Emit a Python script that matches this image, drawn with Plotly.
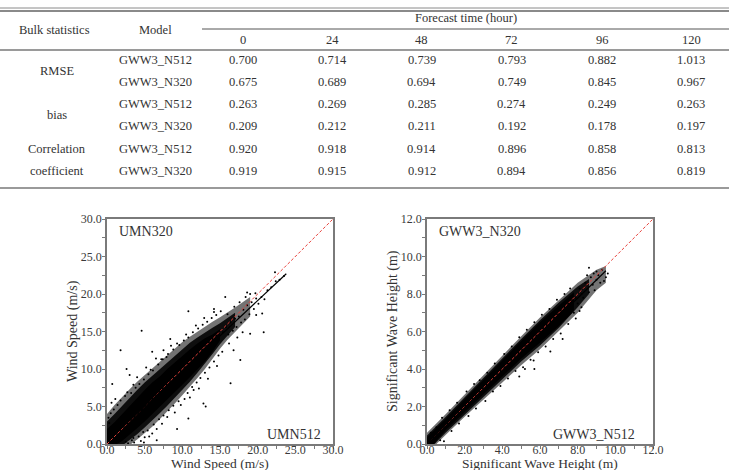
import plotly.graph_objects as go

W, H = 729, 470

# ---------------- table data ----------------
forecast_hours = ["0", "24", "48", "72", "96", "120"]
models = ["GWW3_N512", "GWW3_N320"]
stat_names = ["RMSE", "bias", "Correlation", "coefficient"]
rmse_n512 = [0.700, 0.714, 0.739, 0.793, 0.882, 1.013]
rmse_n320 = [0.675, 0.689, 0.694, 0.749, 0.845, 0.967]
bias_n512 = [0.263, 0.269, 0.285, 0.274, 0.249, 0.263]
bias_n320 = [0.209, 0.212, 0.211, 0.192, 0.178, 0.197]
corr_n512 = [0.920, 0.918, 0.914, 0.896, 0.858, 0.813]
corr_n320 = [0.919, 0.915, 0.912, 0.894, 0.856, 0.819]

# ---------------- wind speed scatter ----------------
# density envelopes of the point cloud (light, medium, solid)
wind_outer_x = [0, 0, 1, 2, 3, 4, 5, 6, 7, 8, 9, 10, 11, 12, 13, 14, 15, 16, 17, 18, 19,
                19, 18, 17, 16, 15, 14, 13, 12, 11, 10, 9, 8, 7, 6, 5, 4, 3.2, 0]
wind_outer_y = [0, 4.0, 5.2, 6.3, 7.3, 8.3, 9.2, 10.1, 11.0, 11.9, 12.8, 13.6, 14.3, 15.0, 15.7, 16.3, 16.9, 17.5, 18.2, 18.9, 19.6,
                17.0, 16.0, 15.0, 13.9, 12.7, 11.3, 10.0, 8.8, 7.6, 6.5, 5.4, 4.3, 3.3, 2.3, 1.4, 0.6, 0, 0]
wind_mid_x = [0, 0, 1, 2, 3, 4, 5, 6, 7, 8, 9, 10, 11, 12, 13, 14, 15, 16, 17,
              17, 16, 15, 14, 13, 12, 11, 10, 9, 8, 7, 6, 5, 4, 3, 2.3, 0]
wind_mid_y = [0, 3.0, 4.0, 5.1, 6.2, 7.2, 8.2, 9.1, 10.0, 10.9, 11.8, 12.7, 13.5, 14.2, 14.9, 15.5, 16.1, 16.8, 17.5,
              15.6, 14.5, 13.3, 12.0, 10.7, 9.5, 8.3, 7.2, 6.2, 5.1, 4.1, 3.1, 2.2, 1.3, 0.5, 0, 0]
wind_core_x = [0, 0, 1, 2, 3, 4, 5, 6, 7, 8, 9, 10, 11, 12, 13, 14, 15,
               15, 14, 13, 12, 11, 10, 9, 8, 7, 6, 5, 4, 3, 2, 1.3, 0]
wind_core_y = [0, 2.0, 2.9, 4.0, 5.1, 6.2, 7.2, 8.2, 9.0, 10.0, 10.9, 11.8, 12.6, 13.4, 14.1, 14.6, 15.3,
               13.8, 12.3, 11.0, 9.9, 8.9, 7.9, 6.9, 5.9, 4.9, 3.9, 3.0, 2.1, 1.2, 0.4, 0, 0]
wind_pts_x = [0.2, 0.5, 0.9, 1.4, 0.3, 1.8, 2.4, 2.8, 2.5, 3.3, 3.6, 1.1, 0.6,
              3.2, 3.8, 4.3, 4.9, 5.5, 6.1, 6.8, 7.4, 8.1, 8.8, 2.7, 4.0, 5.2, 6.5, 7.5, 3.5, 5.8, 7.9, 8.5, 9.3,
              3.5, 4.2, 4.8, 5.4, 6.2, 6.9, 7.5, 8.2, 8.8, 9.5, 4.5, 5.6, 6.6, 7.3, 8.0, 9.0, 9.8, 10.3, 5.0, 6.0,
              9.6, 10.2, 10.8, 11.4, 12.1, 12.7, 13.3, 13.9, 14.5, 15.1, 10.5, 11.8, 12.9, 14.2,
              10.7, 11.3, 11.9, 12.4, 13.0, 13.6, 14.2, 14.8, 15.3, 11.0, 12.2, 13.4, 14.6,
              15.4, 15.8, 16.1, 16.4, 16.7, 17.0, 17.2, 17.5, 17.8, 18.1, 18.3, 18.6, 18.9, 19.2, 19.5, 19.8,
              20.1, 20.5, 20.9, 21.3, 21.8, 22.4, 22.9, 23.5, 16.0, 16.9, 17.6, 18.4, 19.0, 17.3, 18.0, 16.2, 19.8,
              4.6, 1.8, 10.8, 14.2, 15.7, 2.6, 0.7, 7.2, 12.8, 13.1, 10.8, 9.3, 16.4, 17.7, 19.0, 20.8, 20.6,
              6.6, 4.9, 11.5, 16.8, 18.6, 19.7, 22.3, 8.4, 6.0, 3.0]
wind_pts_y = [3.5, 4.1, 4.6, 5.2, 2.8, 5.8, 6.4, 0.1, 0.3, 0.5, 0.2, 6.0, 5.5,
              6.8, 7.5, 8.0, 8.6, 9.3, 9.8, 10.6, 11.3, 12.0, 12.6, 6.9, 8.9, 10.2, 11.4, 12.5, 7.9, 9.9, 11.6, 13.1, 13.4,
              0.8, 1.0, 1.6, 1.8, 2.6, 3.3, 3.8, 4.5, 5.1, 5.7, 0.4, 1.0, 2.0, 2.7, 3.6, 4.2, 5.2, 6.0, 0.9, 1.4,
              13.2, 13.8, 14.2, 14.9, 15.4, 15.9, 16.3, 16.8, 17.2, 17.7, 14.6, 15.8, 16.8, 17.6,
              6.8, 7.6, 8.2, 8.8, 9.5, 10.2, 11.0, 11.8, 12.3, 6.2, 7.4, 8.7, 10.4,
              14.9, 15.6, 14.6, 16.2, 15.1, 16.7, 15.6, 17.0, 16.2, 17.9, 16.6, 18.5, 17.3, 18.9, 18.0, 19.4,
              18.7, 19.6, 19.3, 20.5, 20.9, 21.7, 21.9, 22.4, 17.3, 18.3, 18.9, 19.6, 20.0, 14.2, 14.9, 13.4, 17.2,
              15.1, 12.5, 17.7, 18.0, 19.6, 10.0, 8.0, 11.3, 5.4, 5.0, 3.4, 2.0, 8.1, 11.2, 14.7, 14.9, 17.4,
              0.5, 0.2, 7.2, 12.5, 20.2, 20.1, 22.9, 14.0, 12.3, 9.2]
wind_fit_x = [0, 23.8]
wind_fit_y = [0.3, 22.7]

# ---------------- wave height scatter ----------------
wave_outer_x = [0, 0, 1, 2, 3, 4, 5, 6, 7, 8, 9, 9.5, 9.5, 9, 8, 7, 6, 5, 4, 3, 2, 1, 0.5, 0]
wave_outer_y = [0, 0.6, 1.6, 2.65, 3.7, 4.75, 5.75, 6.75, 7.7, 8.6, 9.3, 9.5, 8.6, 8.2, 7.0, 6.0, 5.05, 4.2, 3.3, 2.4, 1.45, 0.5, 0, 0]
wave_mid_x = [0, 0, 1, 2, 3, 4, 5, 6, 7, 8, 8.6, 8.6, 8, 7, 6, 5, 4, 3, 2, 1, 0.4, 0]
wave_mid_y = [0, 0.45, 1.45, 2.5, 3.55, 4.6, 5.6, 6.6, 7.55, 8.4, 8.8, 8.0, 7.3, 6.2, 5.25, 4.4, 3.45, 2.5, 1.58, 0.62, 0, 0]
wave_core_x = [0, 0, 1, 2, 3, 4, 5, 6, 7, 7.8, 7.8, 7, 6, 5, 4, 3, 2, 1, 0.35, 0]
wave_core_y = [0, 0.35, 1.35, 2.4, 3.45, 4.5, 5.5, 6.5, 7.4, 8.1, 7.1, 6.3, 5.4, 4.55, 3.6, 2.65, 1.7, 0.75, 0, 0]
wave_pts_x = [0.2, 0.5, 0.8, 1.2, 1.6, 2.1, 2.5, 2.8, 3.2, 3.6, 4.1, 4.5, 4.9, 5.3, 5.7, 6.1, 6.5, 6.9, 7.3, 7.6,
              0.4, 0.7, 0.9, 1.3, 1.7, 2.2, 2.6, 3.1, 3.5, 3.9, 4.3, 4.7, 5.1, 5.5, 5.9, 6.3, 6.7, 7.1, 7.5, 7.9,
              5.2, 5.7, 5.66, 6.55, 7.2, 8.1, 8.2, 4.9,
              7.9, 8.1, 8.3, 8.4, 8.6, 8.5, 8.6, 8.8, 8.85, 9.0, 9.1, 9.2, 9.3, 9.5, 9.6, 8.2, 8.7, 9.0, 7.7, 7.8,
              8.0, 8.9, 9.4]
wave_pts_y = [0.6, 0.9, 1.4, 1.8, 2.2, 2.8, 3.2, 3.4, 3.8, 4.3, 4.8, 5.2, 5.7, 6.1, 6.5, 6.9, 7.2, 7.7, 8.0, 8.3,
              0.1, 0.2, 0.15, 0.7, 1.1, 1.5, 1.9, 2.3, 2.8, 3.1, 3.5, 3.9, 4.1, 4.5, 4.9, 5.2, 5.6, 5.9, 6.4, 6.7,
              4.0, 4.0, 4.45, 4.93, 5.6, 7.1, 7.3, 3.6,
              7.8, 8.3, 7.8, 8.6, 8.1, 9.0, 9.4, 8.5, 9.1, 8.76, 9.0, 8.6, 9.3, 8.9, 9.1, 8.0, 8.9, 9.2, 7.6, 7.0,
              7.5, 8.2, 8.7]
wave_fit_x = [0, 9.5]
wave_fit_y = [0.0, 9.24]

wind_range = [0, 30]
wave_range = [0, 12]

# ---------------- figure ----------------
def px(x):
    return x / W

def py(y):
    return 1 - y / H

SERIF = "Liberation Serif, Times New Roman, serif"
TXT = "#333333"

fig = go.Figure()

def panel(xa, ya, layers, ptsx, ptsy, rng, fitx, fity):
    for (lx, ly), alpha in zip(layers, [0.55, 0.88, 1.0]):
        fig.add_trace(go.Scatter(x=lx, y=ly, mode="lines", fill="toself",
                                 fillcolor=f"rgba(0,0,0,{alpha})", line=dict(width=0),
                                 xaxis=xa, yaxis=ya, hoverinfo="skip"))
    fig.add_trace(go.Scatter(x=ptsx, y=ptsy, mode="markers",
                             marker=dict(color="black", size=2), xaxis=xa, yaxis=ya))
    fig.add_trace(go.Scatter(x=rng, y=rng, mode="lines",
                             line=dict(color="#e8403a", width=1, dash="3px,2px"), xaxis=xa, yaxis=ya))
    fig.add_trace(go.Scatter(x=fitx, y=fity, mode="lines",
                             line=dict(color="black", width=1.2), xaxis=xa, yaxis=ya))

panel("x", "y", [(wind_outer_x, wind_outer_y), (wind_mid_x, wind_mid_y), (wind_core_x, wind_core_y)],
      wind_pts_x, wind_pts_y, wind_range, wind_fit_x, wind_fit_y)
panel("x2", "y2", [(wave_outer_x, wave_outer_y), (wave_mid_x, wave_mid_y), (wave_core_x, wave_core_y)],
      wave_pts_x, wave_pts_y, wave_range, wave_fit_x, wave_fit_y)

ydom = [py(444), py(219)]

def axis(rng, dt, dom, anchor):
    return dict(domain=dom, range=rng, anchor=anchor, dtick=dt, tick0=0, tickformat=".1f",
                showgrid=False, zeroline=False, showline=True, mirror=True,
                linecolor="#7a7a7a", linewidth=1.5,
                ticks="outside", ticklen=3, tickcolor="#7a7a7a",
                minor=dict(dtick=dt / 2, ticks="outside", ticklen=3, tickcolor="#7a7a7a"),
                tickfont=dict(family=SERIF, size=12, color="#3a3a3a"),
                automargin=False, fixedrange=True)

layout = dict(
    width=W, height=H, margin=dict(l=0, r=0, t=0, b=0),
    paper_bgcolor="white", plot_bgcolor="white", showlegend=False,
    xaxis=axis(wind_range, 5, [px(107), px(333)], "y"),
    yaxis=axis(wind_range, 5, ydom, "x"),
    xaxis2=axis(wave_range, 2, [px(427), px(653)], "y2"),
    yaxis2=axis(wave_range, 2, ydom, "x2"),
)
fig.update_layout(**layout)
try:
    fig.update_layout(xaxis_ticklabelstandoff=-9, xaxis2_ticklabelstandoff=-9,
                      yaxis_ticklabelstandoff=-2, yaxis2_ticklabelstandoff=-2)
except Exception:
    pass

ann = []
shapes = []

def text(x, y, s, size=12.5, xanchor="center", angle=0):
    ann.append(dict(x=px(x), y=py(y), xref="paper", yref="paper", text=s, showarrow=False,
                    xanchor=xanchor, yanchor="middle", textangle=angle,
                    font=dict(family=SERIF, size=size, color=TXT)))

def hline(y, x0, x1, w, c):
    shapes.append(dict(type="line", xref="paper", yref="paper", x0=px(x0), x1=px(x1),
                       y0=py(y), y1=py(y), line=dict(color=c, width=w)))

# table rules
hline(8, 0, W, 1, "#8a8a8a")
hline(11, 0, W, 2, "#8a8a8a")
hline(29, 202, W, 1, "#555555")
hline(50, 0, W, 2, "#9a9a9a")
hline(188, 0, W, 2, "#9a9a9a")

# header
text(55, 30, "Bulk statistics")
text(155, 30, "Model")
text(466, 18, "Forecast time (hour)")
col_x = [243, 332, 422, 512, 602, 691]
for cx, h in zip(col_x, forecast_hours):
    text(cx, 40, h)

row_y = [60, 82, 104, 126, 149, 171]
rows = [rmse_n512, rmse_n320, bias_n512, bias_n320, corr_n512, corr_n320]
for i, (ry, vals) in enumerate(zip(row_y, rows)):
    text(155, ry, models[i % 2])
    for cx, v in zip(col_x, vals):
        text(cx, ry, f"{v:.3f}")

text(57, 71, stat_names[0])
text(57, 115, stat_names[1])
text(57, 149, stat_names[2])
text(57, 171, stat_names[3])

# panel labels
text(117, 231, "UMN320", size=14, xanchor="left")
text(323, 434, "UMN512", size=14, xanchor="right")
text(437, 231, "GWW3_N320", size=14, xanchor="left")
text(637, 434, "GWW3_N512", size=14, xanchor="right")

# axis titles
text(220, 463.8, "Wind Speed (m/s)", size=13.5)
text(73, 331, "Wind Speed (m/s)", size=14, angle=-90)
text(540, 463.8, "Significant Wave Height (m)", size=13.5)
text(393, 331, "Significant Wave Height (m)", size=14, angle=-90)

fig.update_layout(annotations=ann, shapes=shapes)
fig.write_html("out.html")
